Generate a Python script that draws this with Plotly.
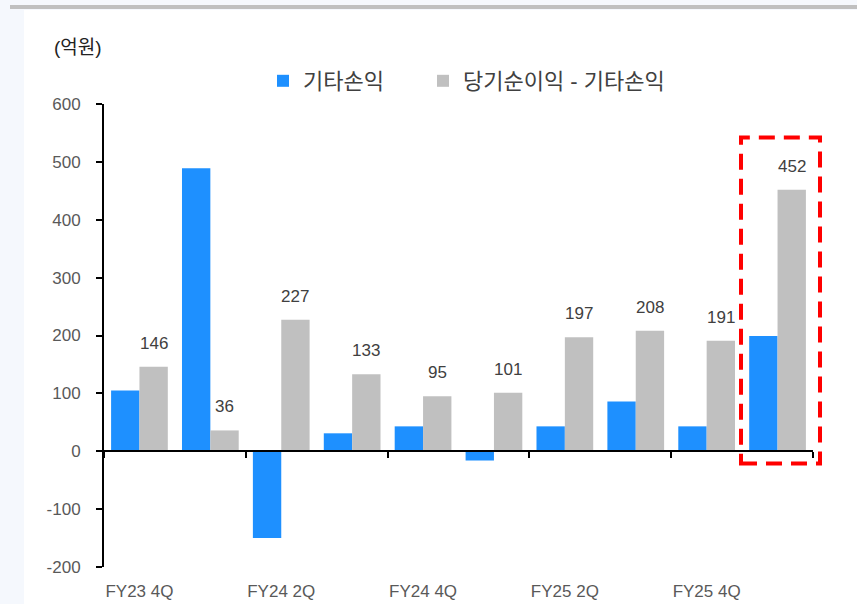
import plotly.graph_objects as go
import numpy as np

# ---- data ----
quarters = ["FY23 4Q", "FY24 1Q", "FY24 2Q", "FY24 3Q", "FY24 4Q",
            "FY25 1Q", "FY25 2Q", "FY25 3Q", "FY25 4Q", "FY26 1Q"]
other_pl = [105, 489, -150, 31, 43, -16, 43, 86, 43, 199]          # 기타손익
net_minus_other = [146, 36, 227, 133, 95, 101, 197, 208, 191, 452]  # 당기순이익 - 기타손익
y_ticks = [-200, -100, 0, 100, 200, 300, 400, 500, 600]
y_tick_text = ["-200", "-100", "0", "100", "200", "300", "400", "500", "600"]

W, H = 857, 604
ML, MR, MT, MB = 104, 44, 104, 37
PW, PH = W - ML - MR, H - MT - MB

def px_x(px):
    return (px - ML) / PW

def px_y(py):
    return (H - MB - py) / PH

FONT = "Liberation Sans, Arial, Noto Sans CJK KR, sans-serif"
KFONT = "Liberation Sans, Noto Sans CJK KR, sans-serif"
x_pos = np.arange(len(quarters))

fig = go.Figure()
fig.add_trace(go.Bar(x=x_pos, y=other_pl, name="기타손익", legend="legend",
                     marker=dict(color="#1E90FF", line=dict(width=0))))
fig.add_trace(go.Bar(x=x_pos, y=net_minus_other, name="당기순이익 - 기타손익", legend="legend2",
                     marker=dict(color="#C0C0C0", line=dict(width=0))))

# invisible trace on the label axis
fig.add_trace(go.Scatter(x=[x_pos[0]], y=[0], xaxis="x2", mode="markers",
                         marker=dict(opacity=0), showlegend=False, hoverinfo="skip"))

annotations = []
n = len(quarters)
for i, v in enumerate(net_minus_other):
    annotations.append(dict(x=i + 0.2, y=v, xref="x", yref="y", text=str(v),
                            showarrow=False, yanchor="bottom", xanchor="center",
                            yshift=12, font=dict(family=FONT, size=17, color="#404040")))
annotations.append(dict(x=px_x(52), y=px_y(48), xref="paper", yref="paper",
                        text="(억원)", showarrow=False, xanchor="left", yanchor="middle",
                        font=dict(family=KFONT, size=19, color="#222222")))

ymin, ymax = y_ticks[0], y_ticks[-1]
zero_frac = (0 - ymin) / (ymax - ymin)

shapes = [
    # white panel
    dict(type="rect", xref="paper", yref="paper", x0=px_x(24), x1=px_x(W + 20),
         y0=px_y(H + 20), y1=px_y(10), fillcolor="white", line=dict(width=0), layer="below"),
    # top grey rule
    dict(type="line", xref="paper", yref="paper", x0=px_x(10), x1=px_x(W + 20),
         y0=px_y(7), y1=px_y(7), line=dict(color="#C0C0C0", width=4), layer="below"),
    # red dashed highlight around the latest quarter
    dict(type="rect", xref="paper", yref="y", x0=px_x(741), x1=px_x(820), y0=-21, y1=542,
         line=dict(color="#FF0000", width=4, dash="16px,9px"), fillcolor="rgba(0,0,0,0)"),
]

leg_common = dict(orientation="h", y=px_y(81), xanchor="left", yanchor="middle",
                  font=dict(family=KFONT, size=22, color="#404040"),
                  bgcolor="rgba(0,0,0,0)", itemwidth=30)

fig.update_layout(
    width=W, height=H, autosize=False,
    margin=dict(l=ML, r=MR, t=MT, b=MB, autoexpand=False),
    paper_bgcolor="#F5F8FD", plot_bgcolor="white",
    barmode="group", bargap=0.2, bargroupgap=0,
    font=dict(family=FONT, size=17, color="#404040"),
    showlegend=True,
    legend=dict(x=px_x(263), **leg_common),
    legend2=dict(x=px_x(423), **leg_common),
    xaxis=dict(range=[-0.5, n - 0.5], anchor="free", position=zero_frac,
               showline=True, linecolor="black", linewidth=2,
               ticks="outside", ticklen=6, tickwidth=2, tickcolor="black",
               tickvals=list(np.arange(-0.5, n, 2)), showticklabels=False,
               showgrid=False, zeroline=False, automargin=False),
    xaxis2=dict(range=[-0.5, n - 0.5], overlaying="x", anchor="y", side="bottom",
                tickvals=list(x_pos[::2]), ticktext=quarters[::2],
                ticks="", showline=False, showgrid=False, zeroline=False,
                ticklabelstandoff=12, automargin=False,
                tickfont=dict(family=FONT, size=17, color="#595959")),
    yaxis=dict(range=[ymin, ymax], tickvals=y_ticks, ticktext=y_tick_text,
               showline=True, linecolor="black",
               linewidth=2, ticks="outside", ticklen=6, tickwidth=2, tickcolor="black",
               showgrid=False, zeroline=False, ticklabelstandoff=12, automargin=False,
               tickfont=dict(family=FONT, size=17, color="#595959")),
    annotations=annotations,
    shapes=shapes,
)

fig.write_html("out.html", config={"displayModeBar": False},
               post_script="document.body.style.margin='0';document.body.style.overflow='hidden';")
